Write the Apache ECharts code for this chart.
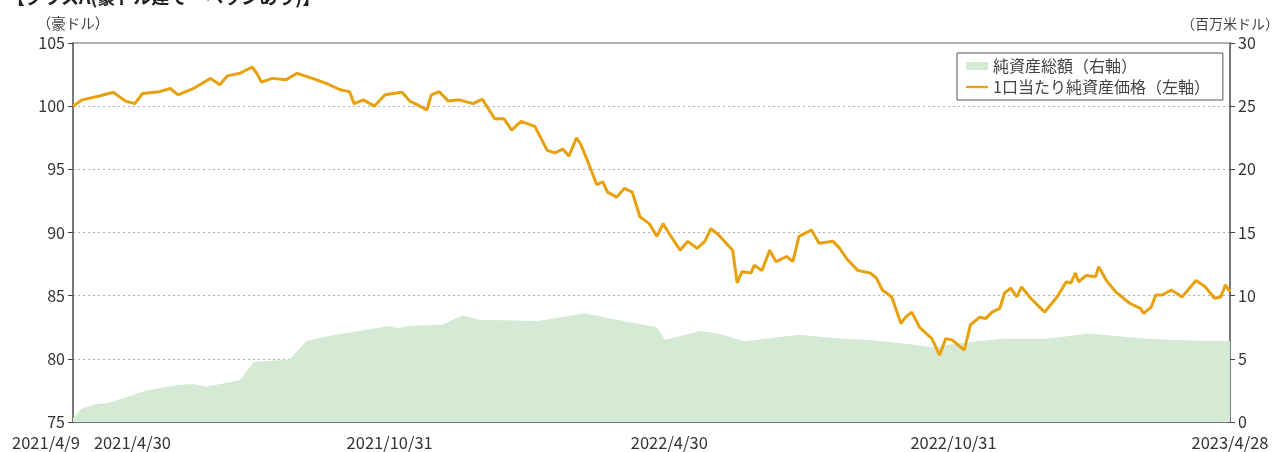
<!DOCTYPE html>
<html>
<head>
<meta charset="utf-8">
<script src="https://cdn.jsdelivr.net/npm/echarts@6/dist/echarts.min.js"></script>
<style>
html,body{margin:0;padding:0;background:#fff;}
#chart{width:1281px;height:452px;}
</style>
</head>
<body>
<div id="chart"></div>
<script>
// ---- data ----
const titleText = '【クラスA(豪ドル建て・ヘッジあり)】';
const leftUnit = '（豪ドル）';
const rightUnit = '（百万米ドル）';
const seriesNames = ['純資産総額（右軸）', '1口当たり純資産価格（左軸）'];
const startDate = '2021-04-09';
const endDate = '2023-04-28';
const tickDates = ['2021-04-30', '2021-10-31', '2022-04-30', '2022-10-31'];
const labelDates = ['2021-04-09', '2021-04-30', '2021-10-31', '2022-04-30', '2022-10-31', '2023-04-28'];

const navDates = ['2021-04-09','2021-04-14','2021-04-23','2021-05-02','2021-05-10','2021-05-27','2021-06-14','2021-06-26','2021-07-04','2021-07-26','2021-07-29','2021-08-04','2021-08-27','2021-09-07','2021-09-21','2021-10-16','2021-10-31','2021-11-05','2021-11-11','2021-12-04','2021-12-17','2021-12-28','2022-02-04','2022-03-06','2022-03-23','2022-04-22','2022-04-27','2022-05-20','2022-06-01','2022-06-17','2022-07-23','2022-08-18','2022-09-07','2022-09-30','2022-10-19','2022-10-31','2022-12-04','2023-01-01','2023-01-27','2023-02-22','2023-03-21','2023-04-28'];
const navValues = [0.3,1.0,1.4,1.5,1.85,2.5,2.9,3.0,2.8,3.3,3.8,4.75,4.95,6.4,6.8,7.3,7.6,7.4,7.6,7.7,8.45,8.1,8.0,8.6,8.2,7.5,6.5,7.2,7.0,6.4,6.9,6.6,6.5,6.2,5.9,6.2,6.6,6.6,7.0,6.7,6.5,6.4];

const priceDates = ['2021-04-09','2021-04-15','2021-04-26','2021-05-05','2021-05-13','2021-05-19','2021-05-24','2021-06-04','2021-06-11','2021-06-16','2021-06-26','2021-07-07','2021-07-13','2021-07-18','2021-07-26','2021-08-03','2021-08-06','2021-08-09','2021-08-16','2021-08-25','2021-09-01','2021-09-11','2021-09-20','2021-09-29','2021-10-05','2021-10-08','2021-10-14','2021-10-21','2021-10-28','2021-11-08','2021-11-13','2021-11-18','2021-11-24','2021-11-27','2021-12-02','2021-12-08','2021-12-15','2021-12-24','2021-12-30','2022-01-07','2022-01-13','2022-01-18','2022-01-24','2022-02-02','2022-02-10','2022-02-15','2022-02-20','2022-02-24','2022-03-01','2022-03-04','2022-03-08','2022-03-14','2022-03-18','2022-03-21','2022-03-27','2022-04-01','2022-04-06','2022-04-11','2022-04-17','2022-04-22','2022-04-26','2022-04-30','2022-05-07','2022-05-12','2022-05-18','2022-05-23','2022-05-27','2022-06-01','2022-06-10','2022-06-13','2022-06-16','2022-06-22','2022-06-24','2022-06-29','2022-07-04','2022-07-08','2022-07-15','2022-07-19','2022-07-23','2022-07-31','2022-08-05','2022-08-14','2022-08-18','2022-08-23','2022-08-30','2022-09-07','2022-09-11','2022-09-15','2022-09-21','2022-09-27','2022-09-30','2022-10-04','2022-10-09','2022-10-17','2022-10-22','2022-10-26','2022-10-30','2022-11-07','2022-11-11','2022-11-17','2022-11-21','2022-11-25','2022-11-30','2022-12-03','2022-12-07','2022-12-11','2022-12-14','2022-12-20','2022-12-29','2023-01-06','2023-01-12','2023-01-15','2023-01-18','2023-01-20','2023-01-25','2023-01-31','2023-02-02','2023-02-07','2023-02-13','2023-02-22','2023-03-01','2023-03-03','2023-03-08','2023-03-11','2023-03-15','2023-03-21','2023-03-28','2023-04-06','2023-04-12','2023-04-18','2023-04-22','2023-04-25','2023-04-28'];
const priceValues = [100.0,100.5,100.8,101.1,100.4,100.2,101.0,101.15,101.4,100.9,101.4,102.2,101.7,102.4,102.6,103.1,102.6,101.9,102.2,102.1,102.6,102.2,101.8,101.3,101.15,100.2,100.5,100.0,100.9,101.1,100.4,100.1,99.7,100.9,101.15,100.4,100.5,100.2,100.55,99.0,99.0,98.1,98.8,98.4,96.5,96.3,96.6,96.05,97.5,96.9,95.7,93.8,94.0,93.2,92.8,93.5,93.2,91.25,90.7,89.7,90.7,89.9,88.6,89.3,88.75,89.3,90.3,89.8,88.6,86.0,86.9,86.8,87.4,87.0,88.6,87.7,88.1,87.7,89.7,90.2,89.15,89.3,88.8,87.9,87.0,86.8,86.4,85.45,84.9,82.8,83.3,83.7,82.5,81.6,80.3,81.6,81.5,80.7,82.7,83.3,83.2,83.7,84.0,85.2,85.6,84.9,85.7,84.8,83.7,84.9,86.1,86.0,86.8,86.1,86.6,86.5,87.3,86.2,85.3,84.4,84.0,83.6,84.1,85.05,85.05,85.45,84.9,86.2,85.7,84.8,84.9,85.85,85.3];

// ---- helpers ----
function ts(s){ const p = s.split('-').map(Number); return new Date(p[0], p[1]-1, p[2]).getTime(); }
function fmt(v){ const d = new Date(Math.round(v)); return d.getFullYear() + '/' + (d.getMonth()+1) + '/' + d.getDate(); }

const navData = navDates.map((d,i)=>[ts(d), navValues[i]]);
const priceData = priceDates.map((d,i)=>[ts(d), priceValues[i]]);
const firstLabel = fmt(ts(labelDates[0]));
const secondLabel = fmt(ts(labelDates[1]));

const font = '"Noto Sans CJK JP", "Noto Sans", sans-serif';
const lineColor = '#E8A10C';
const areaColor = '#d4ead5';
const chart = echarts.init(document.getElementById('chart'), null, {renderer:'canvas'});
chart.setOption({
  animation: false,
  backgroundColor: '#fff',
  textStyle: {fontFamily: font},
  title: {
    text: titleText, left: 2, top: -17,
    textStyle: {fontSize: 18, fontWeight: 'bold', color: '#222', fontFamily: font}
  },
  grid: {
    left: 73, right: 51, top: 43, bottom: 30,
    show: true, borderColor: '#999', borderWidth: 1.5,
    outerBoundsMode: 'none'
  },
  legend: {
    orient: 'vertical', left: 957, top: 53,
    padding: [5, 13, 5, 9],
    borderColor: '#555', borderWidth: 1,
    itemWidth: 22, itemHeight: 8, itemGap: 5,
    textStyle: {fontSize: 16, color: '#444', fontFamily: font},
    data: [
      {name: seriesNames[0], icon: 'rect', itemStyle: {color: areaColor}},
      {name: seriesNames[1], icon: 'path://M0,0H22V2.4H0Z', itemStyle: {color: lineColor}}
    ]
  },
  xAxis: {
    type: 'value',
    min: ts(startDate), max: ts(endDate),
    scale: true,
    splitLine: {show: false},
    axisLine: {show: true, lineStyle: {color: '#666', width: 1.5}},
    axisTick: {
      show: true, inside: true, length: 6,
      lineStyle: {color: '#444', width: 1},
      customValues: tickDates.map(ts)
    },
    axisLabel: {
      show: true,
      customValues: labelDates.map(ts),
      hideOverlap: false,
      showMinLabel: true, showMaxLabel: true,
      fontSize: 16.5, color: '#333', margin: 12, fontFamily: font,
      formatter: function (v) {
        const s = fmt(v);
        if (s === firstLabel) return '{l|' + s + '}';
        if (s === secondLabel) return '{r|' + s + '}';
        return s;
      },
      rich: {
        l: {fontSize: 16.5, color: '#333', padding: [0, 54, 0, 0], fontFamily: font},
        r: {fontSize: 16.5, color: '#333', padding: [0, 0, 0, 54], fontFamily: font}
      }
    }
  },
  yAxis: [
    {
      type: 'value', position: 'left',
      min: 75, max: 105, interval: 5,
      name: leftUnit, nameLocation: 'end', nameGap: 12,
      nameTextStyle: {fontSize: 14.5, color: '#444', align: 'center', fontFamily: font},
      axisLine: {show: true, lineStyle: {color: '#666', width: 1.5}},
      axisTick: {show: true, inside: false, length: 5, lineStyle: {color: '#444'}},
      axisLabel: {fontSize: 16, color: '#333', margin: 8, fontFamily: font},
      splitLine: {show: true, lineStyle: {color: '#a9b3c6', type: [2, 3], width: 1}}
    },
    {
      type: 'value', position: 'right',
      min: 0, max: 30, interval: 5,
      name: rightUnit, nameLocation: 'end', nameGap: 12,
      nameTextStyle: {fontSize: 14, color: '#444', align: 'center', fontFamily: font},
      axisLine: {show: true, lineStyle: {color: '#666', width: 1.5}},
      axisTick: {show: true, inside: false, length: 5, lineStyle: {color: '#444'}},
      axisLabel: {fontSize: 16, color: '#333', margin: 8, fontFamily: font},
      splitLine: {show: false}
    }
  ],
  series: [
    {
      name: seriesNames[0], type: 'line', yAxisIndex: 1,
      data: navData, showSymbol: false, symbol: 'none',
      lineStyle: {width: 0, color: areaColor},
      itemStyle: {color: areaColor},
      areaStyle: {color: areaColor, opacity: 1},
      z: 1
    },
    {
      name: seriesNames[1], type: 'line', yAxisIndex: 0,
      data: priceData, showSymbol: false, symbol: 'none',
      lineStyle: {width: 3, color: lineColor},
      itemStyle: {color: lineColor},
      z: 3
    }
  ]
});
</script>
</body>
</html>
